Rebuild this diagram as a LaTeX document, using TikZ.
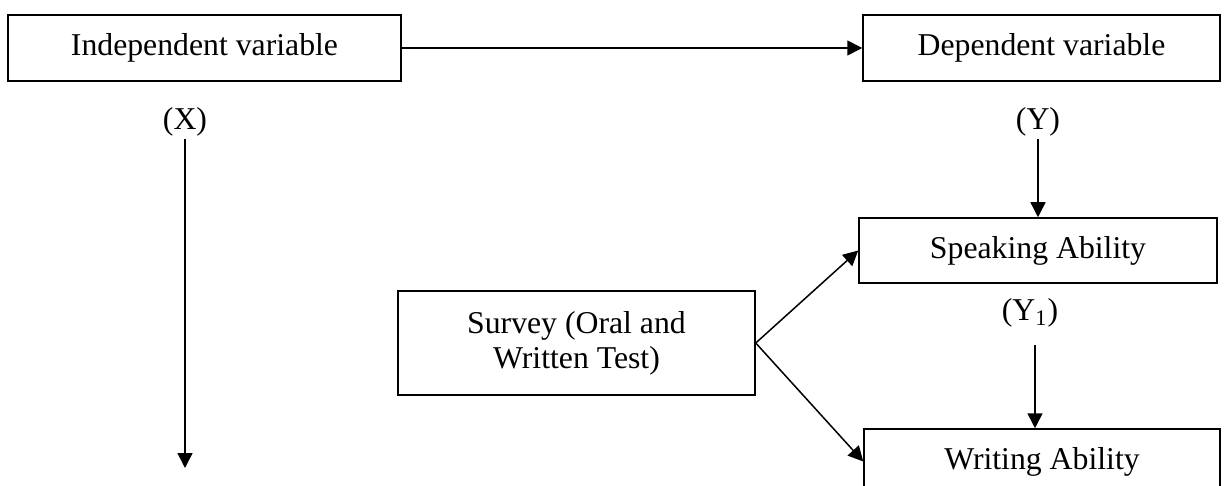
\documentclass[tikz,border=0pt]{standalone}
\usepackage{fontspec}
\setmainfont{Liberation Serif}
\usetikzlibrary{arrows.meta,positioning}

\begin{document}
\begin{tikzpicture}[x=0.4pt, y=-0.4pt, >={Triangle[length=6pt,width=6pt]},
  every node/.style={font=\fontsize{12.7}{14}\selectfont},
  box/.style={draw, line width=0.6pt, minimum height=26.4pt, inner sep=2pt},
  lab/.style={inner sep=1pt}]
  \useasboundingbox (0,0) rectangle (1227,486);

  \node[box, minimum width=157.2pt] (indep) at (204.5,48) {Independent variable};
  \node[box, minimum width=142.8pt] (dep) at (1041.5,48) {Dependent variable};
  \node[box, minimum width=143.2pt, minimum height=26pt] (speak) at (1038,250.5) {Speaking Ability};
  \node[box, minimum width=142.4pt, minimum height=26pt] (writ) at (1042,461.5) {Writing Ability};
  \node[box, minimum width=142.8pt, minimum height=41.6pt, align=center] (surv) at (576.5,343) {Survey (Oral and\\Written Test)};

  \node[lab] (xlab) at (185,122) {(X)};
  \node[lab] (ylab) at (1038,122) {(Y)};
  \node[lab] (y1lab) at (1030,313) {(Y\textsubscript{1})};
  \coordinate (xend) at (185,468);

  \draw[->, line width=0.6pt] (indep) -- (dep);
  \draw[->, line width=0.6pt] (xlab.south) -- (xend);
  \draw[->, line width=0.6pt] (ylab.south) -- (ylab.south |- speak.north);
  \draw[->, line width=0.6pt, shorten <=6pt] ([xshift=2pt]y1lab.south) -- ([xshift=2pt]y1lab.south |- writ.north);
  \draw[->, line width=0.6pt] (surv.east) -- (speak.west);
  \draw[->, line width=0.6pt] (surv.east) -- (writ.west);
\end{tikzpicture}
\end{document}
